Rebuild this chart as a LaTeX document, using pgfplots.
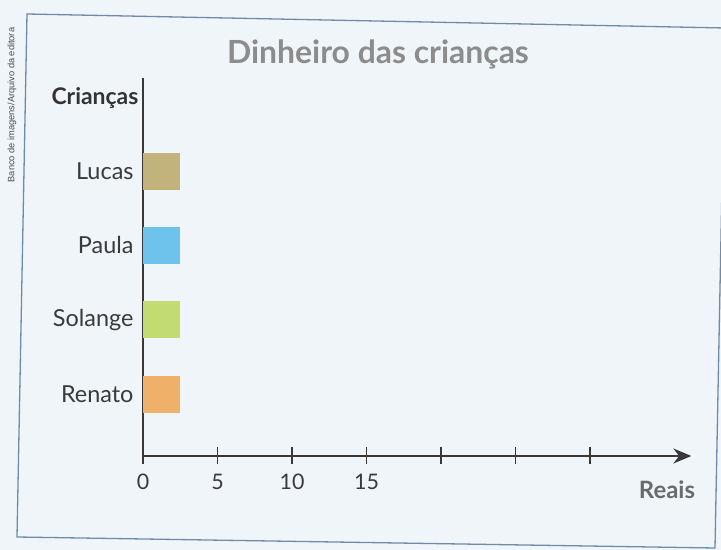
\documentclass[border=0pt]{standalone}
\usepackage{pgfplots}
\pgfplotsset{compat=1.18}
\usepackage{fontspec}
\setmainfont{Lato}
\setsansfont{Liberation Sans}
\usetikzlibrary{arrows.meta}
\definecolor{bg}{HTML}{F0F5FA}
\definecolor{framec}{HTML}{6F8BA8}
\definecolor{axisc}{HTML}{383838}
\definecolor{labc}{HTML}{3A3A3A}
\definecolor{titlec}{HTML}{8C8C8C}
\definecolor{darkc}{HTML}{333333}
\definecolor{reaisc}{HTML}{6A6A6A}
\definecolor{cLucas}{HTML}{C2B27C}
\definecolor{cPaula}{HTML}{6EC3EC}
\definecolor{cSolange}{HTML}{C3DC72}
\definecolor{cRenato}{HTML}{EFB06A}
\begin{document}
\begin{tikzpicture}
\useasboundingbox (0,0) rectangle (721bp,550bp);
\fill[bg] (0,0) rectangle (721bp,550bp);
\begin{scope}
\clip (0,0) rectangle (721bp,550bp);
\draw[framec, line width=1.3bp] (27bp,536bp) -- (725bp,522bp) -- (715bp,2bp) -- (17bp,13bp) -- cycle;
\end{scope}
\node[rotate=90, font=\sffamily\fontsize{9.3}{9.3}\selectfont, text=black!70] at (12bp,445bp) {Banco de imagens/Arquivo da editora};
\begin{axis}[
  at={(143bp,94bp)}, anchor=south west,
  x=14.9bp, y=74.3bp,
  xmin=0, xmax=36.8, ymin=0.166, ymax=5.253,
  axis x line=bottom, axis y line=left,
  x axis line style={-{Stealth[length=18bp,width=15bp]}},
  y axis line style={-},
  axis line style={color=axisc, line width=1.6bp},
  xtick={0,5,...,30}, xticklabels={0,5,10,15,{},{},{}},
  ytick={1,2,3,4}, yticklabels={Renato,Solange,Paula,Lucas},
  tick align=center, major tick length=17bp,
  xtick style={color=axisc, line width=1.4bp},
  ytick style={draw=none},
  xticklabel style={font=\fontsize{21.5}{21.5}\selectfont, text=labc, yshift=-6bp},
  yticklabel style={font=\fontsize{23.5}{23.5}\selectfont, text=labc, xshift=11bp},
  /pgf/number format/assume math mode=true,
  xbar, bar width=37bp,
  clip=false,
]
\addplot[fill=cLucas, draw=none, bar shift=0pt] coordinates {(2.5,4)};
\addplot[fill=cPaula, draw=none, bar shift=0pt] coordinates {(2.5,3)};
\addplot[fill=cSolange, draw=none, bar shift=0pt] coordinates {(2.5,2)};
\addplot[fill=cRenato, draw=none, bar shift=0pt] coordinates {(2.5,1)};
\end{axis}
\node[text=titlec, font=\bfseries\fontsize{32}{32}\selectfont] at (378bp,496bp) {Dinheiro das crianças};
\node[text=darkc, font=\bfseries\fontsize{23}{23}\selectfont] at (95bp,452bp) {Crianças};
\node[text=reaisc, font=\bfseries\fontsize{24}{24}\selectfont] at (667bp,60bp) {Reais};
\end{tikzpicture}
\end{document}
